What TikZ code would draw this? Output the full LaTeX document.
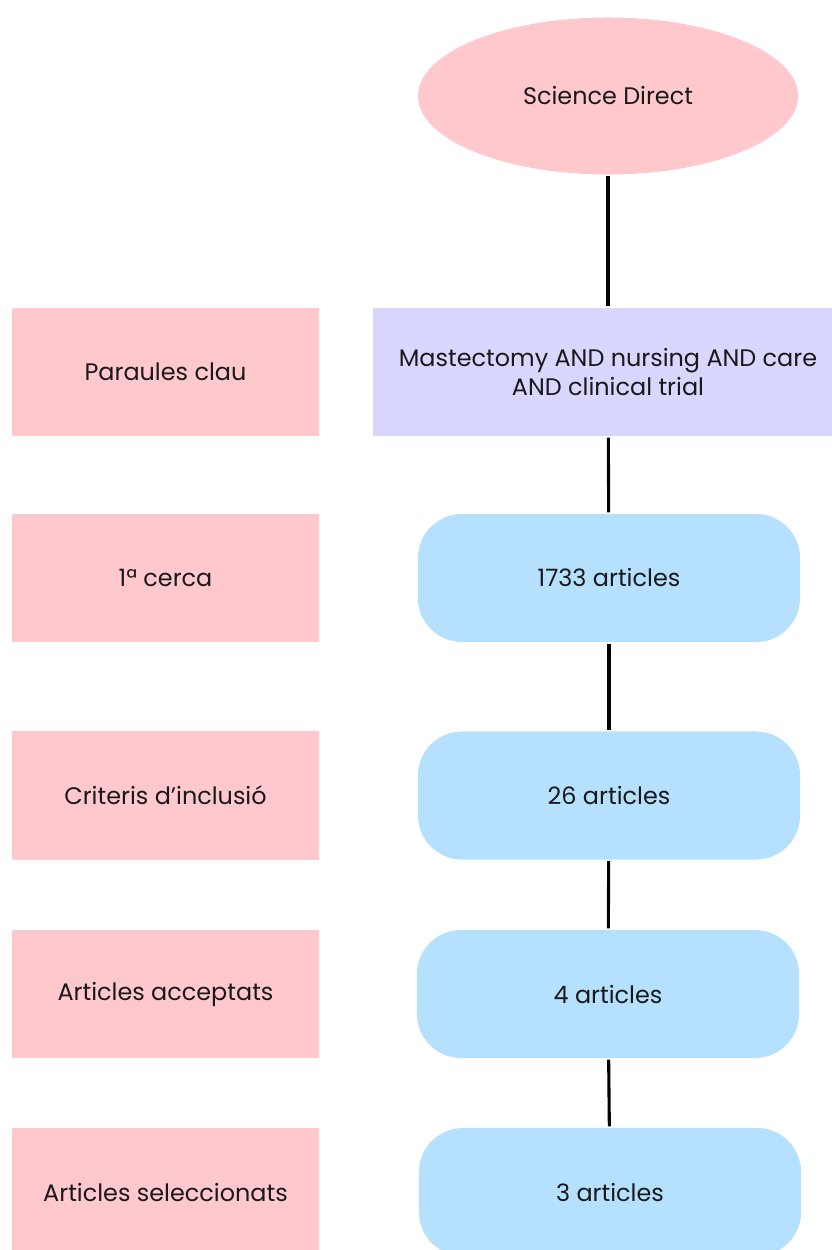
\documentclass[tikz,border=0pt]{standalone}
\usepackage{fontspec}
\setmainfont{Poppins}
\usetikzlibrary{shapes.geometric}

\definecolor{pinkfill}{RGB}{255,200,205}
\definecolor{lilacfill}{RGB}{217,215,255}
\definecolor{bluefill}{RGB}{181,225,254}

\begin{document}
\begin{tikzpicture}[x=0.025cm, y=-0.025cm, line width=2.2pt]
    \tikzstyle{every node}=[font=\fontsize{17}{20}\selectfont, text=black!90, inner sep=0pt]
    \tikzstyle{stage}=[rectangle, fill=pinkfill, minimum width=7.675cm, minimum height=3.2cm]
    \tikzstyle{count}=[rectangle, rounded corners=1.1cm, fill=bluefill, minimum width=9.55cm, minimum height=3.2cm]

    \useasboundingbox (0, 0) rectangle (831, 1250);

    \node[ellipse, fill=pinkfill, minimum width=9.5cm, minimum height=3.925cm] at (608, 96) (src) {Science Direct};
    \node[rectangle, fill=lilacfill, minimum width=11.75cm, minimum height=3.2cm, align=center] at (608, 372) (keys) {Mastectomy AND nursing AND care\\AND clinical trial};

    \node[stage] at (165.5, 372) (paraules) {Paraules clau};
    \node[stage] at (165.5, 578) (cerca) {1ª cerca};
    \node[stage] at (165.5, 795.5) (criteris) {Criteris d’inclusió};
    \node[stage] at (165.5, 994) (acceptats) {Articles acceptats};
    \node[stage] at (165.5, 1192) (seleccionats) {Articles seleccionats};

    \node[count] at (609, 578) (n1733) {1733 articles};
    \node[count] at (609, 795.5) (n26) {26 articles};
    \node[count] at (608, 994) (n4) {4 articles};
    \node[count] at (610, 1192) (n3) {3 articles};

    \path
    (src) edge (keys)
    (keys) edge (n1733)
    (n1733) edge (n26)
    (n26) edge (n4)
    (n4) edge (n3);
\end{tikzpicture}
\end{document}
